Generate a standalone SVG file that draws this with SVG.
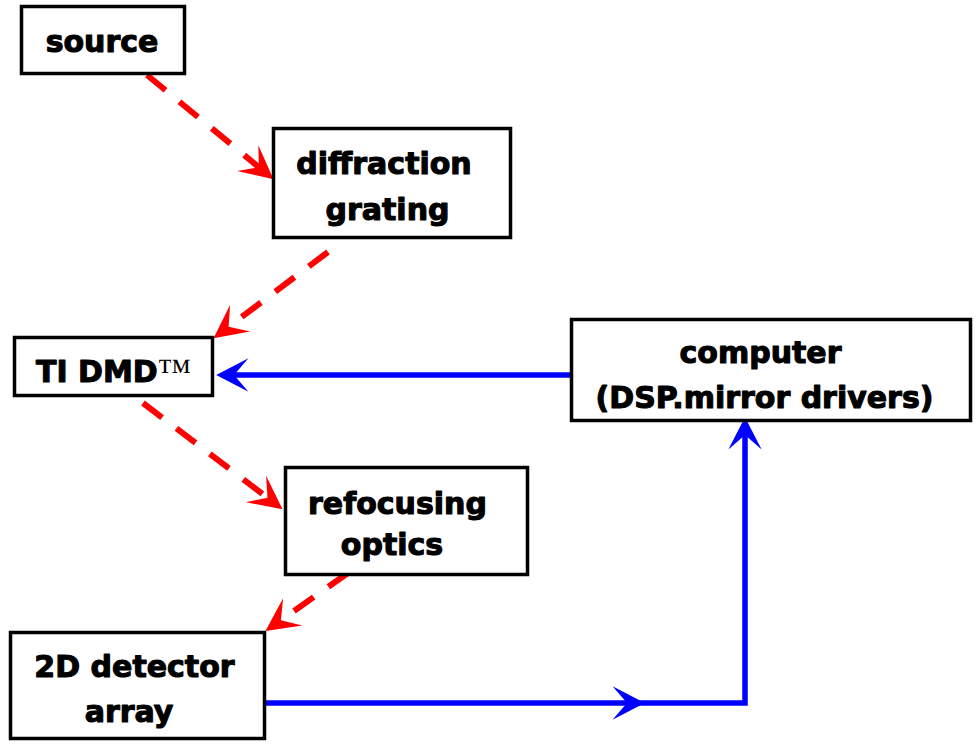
<svg xmlns="http://www.w3.org/2000/svg" width="976" height="744" viewBox="0 0 976 744">
<style>
.box{fill:#fff;stroke:#000;stroke-width:3.5}
.lbl{font-family:"DejaVu Sans","Liberation Sans",sans-serif;font-weight:bold;font-size:30px;fill:#000;stroke:#000;stroke-width:1.1;stroke-linejoin:round;text-anchor:middle}
.tm{font-family:"Liberation Serif","DejaVu Serif",serif;font-weight:normal;font-size:34px;stroke:none}
.red{fill:none;stroke:#ff0000;stroke-width:6;stroke-dasharray:24 18}
.blue{fill:none;stroke:#0000ff;stroke-width:5.5}
</style>
<defs>
<marker id="ahRed" markerUnits="userSpaceOnUse" markerWidth="40" markerHeight="40" viewBox="-2 -17 36 34" refX="13" refY="0" orient="auto" overflow="visible">
<path d="M0,-15 L30,0 L0,15 L13,0 Z" fill="#ff0000" stroke="none"/>
</marker>
<marker id="ahBlue" markerUnits="userSpaceOnUse" markerWidth="40" markerHeight="40" viewBox="-2 -17 36 34" refX="13" refY="0" orient="auto" overflow="visible">
<path d="M0,-15 L29,0 L0,15 L13,0 Z" fill="#0000ff" stroke="none"/>
</marker>
</defs>
<rect width="976" height="744" fill="#fff"/>
<g id="connectors">
<path class="red" d="M147,75 L258.9,167.2" marker-end="url(#ahRed)"/>
<path class="red" d="M328,252 L228.6,326.8" marker-end="url(#ahRed)"/>
<path class="red" d="M143,403 L267.5,497.7" marker-end="url(#ahRed)"/>
<path class="red" d="M348,573 L280.9,620.2" marker-end="url(#ahRed)"/>
<path class="blue" d="M570,375 L234,375" marker-end="url(#ahBlue)"/>
<path class="blue" d="M264,703 L627,703" marker-end="url(#ahBlue)"/>
<path class="blue" d="M627,703 L745,703 L745,435" marker-end="url(#ahBlue)"/>
</g>
<g id="source">
<rect class="box" x="21.5" y="6.5" width="163" height="67"/>
<text class="lbl" x="102" y="52">source</text>
</g>
<g id="diffraction-grating">
<rect class="box" x="273.5" y="128.5" width="237" height="109"/>
<text class="lbl" x="384" y="174">diffraction</text>
<text class="lbl" x="387.5" y="220">grating</text>
</g>
<g id="ti-dmd">
<rect class="box" x="14.5" y="337.5" width="198" height="58"/>
<text class="lbl" x="36" y="382" style="text-anchor:start">TI DMD<tspan class="tm">™</tspan></text>
</g>
<g id="computer">
<rect class="box" x="571.5" y="319.5" width="399" height="101"/>
<text class="lbl" x="760.5" y="363">computer</text>
<text class="lbl" x="764.5" y="408">(DSP.mirror drivers)</text>
</g>
<g id="refocusing-optics">
<rect class="box" x="285.5" y="467.5" width="242" height="107"/>
<text class="lbl" x="397.5" y="514">refocusing</text>
<text class="lbl" x="392" y="555">optics</text>
</g>
<g id="detector">
<rect class="box" x="10.5" y="632.5" width="254" height="106"/>
<text class="lbl" x="134.5" y="677">2D detector</text>
<text class="lbl" x="129" y="722">array</text>
</g>
</svg>
